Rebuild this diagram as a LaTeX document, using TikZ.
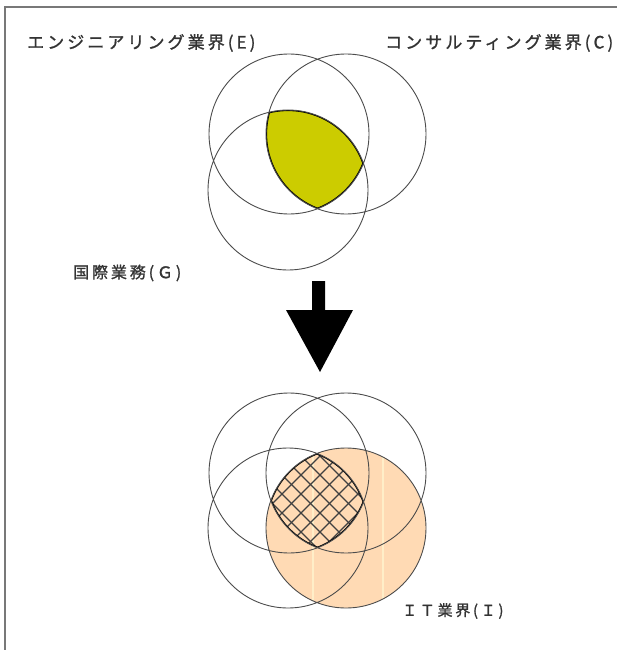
\documentclass[tikz,border=0pt]{standalone}
\usepackage{fontspec}
\newfontfamily\jp[LetterSpace=18,FakeBold=1.2]{Noto Sans CJK JP}
\definecolor{yel}{RGB}{204,204,0}
\definecolor{peach}{RGB}{255,218,180}
\definecolor{streak}{RGB}{255,238,200}
\definecolor{framegray}{RGB}{120,120,120}
\begin{document}
\begin{tikzpicture}[x=1pt,y=-1pt,
  ring/.style={draw=black!70, line width=0.9pt},
  edge/.style={draw=black, line width=2.2pt},
  hatchline/.style={draw=black!75, line width=1.1pt},
  lbl/.style={anchor=west, inner sep=0pt, text=black!80},
]
\useasboundingbox (0,0) rectangle (617,650);
\fill[white] (0,0) rectangle (617,650);
% frame
\draw[line width=2.5pt, framegray] (5,650) -- (5,7) -- (617,7);

\def\cr{80pt}
% ---------- top diagram ----------
\coordinate (E1) at (289,134);
\coordinate (C1) at (346,134);
\coordinate (G1) at (288,190);
\begin{scope}
  \clip (E1) circle[radius=\cr];
  \clip (C1) circle[radius=\cr];
  \clip (G1) circle[radius=\cr];
  \fill[yel] (200,40) rectangle (440,290);
  \draw[edge] (E1) circle[radius=\cr] (C1) circle[radius=\cr] (G1) circle[radius=\cr];
\end{scope}
\draw[ring] (E1) circle[radius=\cr] (C1) circle[radius=\cr] (G1) circle[radius=\cr];

% ---------- arrow ----------
\fill[black] (312,281) -- (325,281) -- (325,310) -- (353,310) -- (320,372) -- (286,310) -- (312,310) -- cycle;

% ---------- bottom diagram ----------
\coordinate (E2) at (289,473);
\coordinate (C2) at (346,473);
\coordinate (G2) at (288,528);
\coordinate (I2) at (346,528);
\fill[peach] (I2) circle[radius=\cr];
\begin{scope}
  \clip (I2) circle[radius=\cr];
  \draw[streak, line width=2pt] (313,440) -- (313,620) (383,440) -- (383,620);
\end{scope}
\begin{scope}
  \clip (E2) circle[radius=\cr];
  \clip (C2) circle[radius=\cr];
  \clip (G2) circle[radius=\cr];
  \clip (I2) circle[radius=\cr];
  \foreach \c in {60,79,...,300} {
    \draw[hatchline] (240,240+\c) -- (400,400+\c);
  }
  \foreach \c in {700,719,...,940} {
    \draw[hatchline] (240,\c-240) -- (400,\c-400);
  }
  \draw[edge] (E2) circle[radius=\cr] (C2) circle[radius=\cr] (G2) circle[radius=\cr] (I2) circle[radius=\cr];
\end{scope}
\draw[ring] (E2) circle[radius=\cr] (C2) circle[radius=\cr] (G2) circle[radius=\cr] (I2) circle[radius=\cr];

% ---------- labels ----------
\node[lbl, font=\jp\fontsize{17}{17}\selectfont] (labE) at (27,43) {エンジニアリング業界(E)};
\node[lbl, font=\jp\fontsize{17}{17}\selectfont] (labC) at (385,43) {コンサルティング業界(C)};
\node[lbl, font=\jp\fontsize{16}{16}\selectfont] (labG) at (73,273) {国際業務(Ｇ)};
\node[lbl, font=\jp\fontsize{15}{15}\selectfont] (labI) at (402,611) {ＩＴ業界(Ｉ)};
\end{tikzpicture}
\end{document}
